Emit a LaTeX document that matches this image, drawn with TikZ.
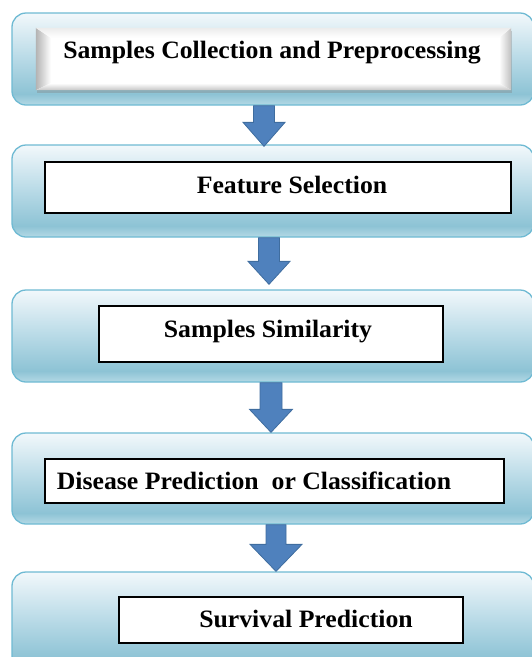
\documentclass[tikz,border=0pt]{standalone}
\usepackage{fontspec}
\setmainfont{Liberation Serif}
\usetikzlibrary{calc,shadows}
\definecolor{bordc}{HTML}{6FBAD3}
\definecolor{shtop}{HTML}{F2F8FB}
\definecolor{shmid}{HTML}{BCDCE8}
\definecolor{shdark}{HTML}{8DC3D5}
\definecolor{shbot}{HTML}{B4D9E5}
\definecolor{arrfill}{HTML}{4F81BD}
\definecolor{arrline}{HTML}{3F6D9F}
\pgfdeclareverticalshading{boxshade}{100bp}{color(0bp)=(shbot); color(25bp)=(shbot); color(31bp)=(shdark); color(52bp)=(shmid); color(75bp)=(shtop); color(100bp)=(shtop)}
\tikzset{
  outerbox/.style={rounded corners=14pt, draw=bordc, line width=1.3pt, shade, shading=boxshade, minimum width=522pt, inner sep=0pt},
  innerbox/.style={draw=black, fill=white, line width=1.3pt, inner sep=0pt},
  lbl/.style={anchor=base, inner sep=0pt, font=\fontsize{25}{30}\selectfont\bfseries},
  blockarr/.style={fill=arrfill, draw=arrline, line width=0.8pt, line join=miter}
}
\newcommand\stretchtxt[1]{\scalebox{1.03}[1]{#1}}
\newcommand\barrow[7]{%
  \path[blockarr] let \p1=(#1.south), \p2=(#2.north) in
    (#3-#4,\y1) -- (#3+#4,\y1) -- (#3+#4,\y2+#6) -- (#3+#5,\y2+#6) -- (#3,\y2+#7)
    -- (#3-#5,\y2+#6) -- (#3-#4,\y2+#6) -- cycle;}
\begin{document}
\begin{tikzpicture}[x=1pt,y=-1pt]
\useasboundingbox (0,0) rectangle (532,657);
\clip (0,0) rectangle (532,657);
% outer rounded panels
\node[outerbox, minimum height=92pt] (o1) at (273,59) {};
\node[outerbox, minimum height=92pt] (o2) at (273,191) {};
\node[outerbox, minimum height=92pt] (o3) at (273,336) {};
\node[outerbox, minimum height=91pt] (o4) at (273,478.5) {};
\node[outerbox, minimum height=98pt] (o5) at (273,621) {};
% first (bevelled) box
\node[fill=white, inner sep=0pt, minimum width=475pt, minimum height=62pt,
      drop shadow={shadow xshift=1pt, shadow yshift=-3pt, opacity=0.35}] (b1) at (273.5,59) {};
\shade[left color=gray!60, right color=white] (b1.north west) -- ($(b1.north west)+(15,10)$) -- ($(b1.south west)+(15,-7)$) -- (b1.south west) -- cycle;
\shade[right color=gray!50, left color=white] (b1.north east) -- ($(b1.north east)+(-12,10)$) -- ($(b1.south east)+(-12,-7)$) -- (b1.south east) -- cycle;
\shade[top color=white, bottom color=gray!45] (b1.south west) -- ($(b1.south west)+(15,-7)$) -- ($(b1.south east)+(-12,-7)$) -- (b1.south east) -- cycle;
\shade[top color=gray!15, bottom color=white] (b1.north west) -- ($(b1.north west)+(15,10)$) -- ($(b1.north east)+(-12,10)$) -- (b1.north east) -- cycle;
% other boxes
\node[innerbox, minimum width=466pt, minimum height=51pt] (b2) at (278,187.5) {};
\node[innerbox, minimum width=344pt, minimum height=56pt] (b3) at (271,334) {};
\node[innerbox, minimum width=459pt, minimum height=44pt] (b4) at (274.5,481) {};
\node[innerbox, minimum width=344pt, minimum height=46pt] (b5) at (291,620) {};
% labels
\node[lbl] (t1) at (272,58) {\stretchtxt{Samples Collection and Preprocessing}};
\node[lbl] (t2) at (292,193) {\stretchtxt{Feature Selection}};
\node[lbl] (t3) at (268,337) {\stretchtxt{Samples Similarity}};
\node[lbl] (t4) at (254,489) {\stretchtxt{Disease Prediction\ \ or Classification}};
\node[lbl] (t5) at (306,627) {\stretchtxt{Survival Prediction}};
% block arrows
\barrow{o1}{o2}{264}{10.5}{21}{22}{-2}
\barrow{o2}{o3}{269}{10.5}{21}{28}{5}
\barrow{o3}{o4}{271}{11}{21.5}{23}{0}
\barrow{o4}{o5}{276}{10}{26}{27}{0}
\end{tikzpicture}
\end{document}
